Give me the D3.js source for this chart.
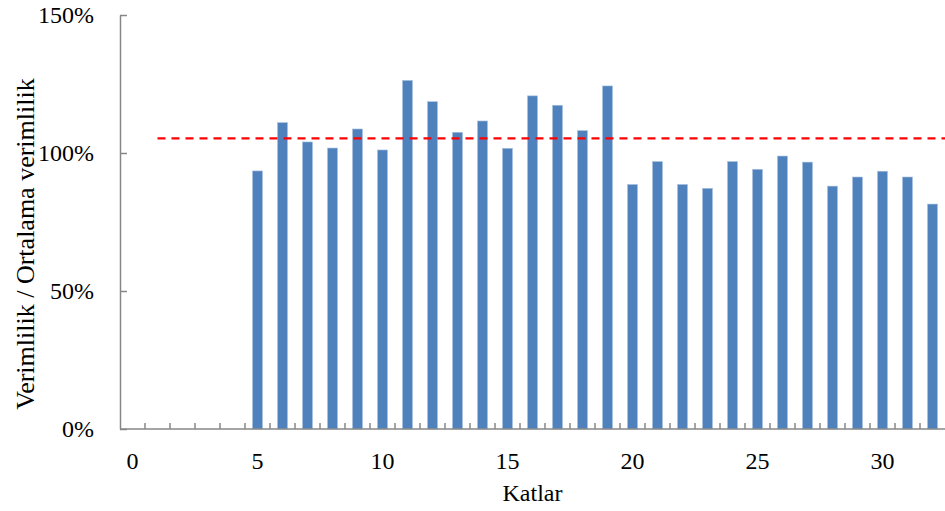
<!DOCTYPE html>
<html>
<head>
<meta charset="utf-8">
<script src="https://cdn.jsdelivr.net/npm/d3@7"></script>
<style>
  body { margin: 0; background: #fff; }
  svg text { font-family: "Liberation Serif", "Times New Roman", serif; fill: #000; }
</style>
</head>
<body>
<div id="chart"></div>
<script>
// floors (Katlar) and yield ratio to the average yield, in percent
const floors = [0, 1, 2, 3, 4, 5, 6, 7, 8, 9, 10, 11, 12, 13, 14, 15, 16,
  17, 18, 19, 20, 21, 22, 23, 24, 25, 26, 27, 28, 29, 30, 31, 32]
const ratios = [null, null, null, null, null, 93.5, 111.0, 104.0, 101.8, 108.7,
  101.1, 126.3, 118.6, 107.5, 111.6, 101.7, 120.7, 117.3, 108.1, 124.3,
  88.6, 96.9, 88.6, 87.2, 96.9, 94.1, 98.9, 96.7, 88.0, 91.3, 93.4, 91.3, 81.5]
const averageLine = 105.3
const averageFrom = 1
const xTickLabels = [0, 5, 10, 15, 20, 25, 30]
const yTickValues = [0, 50, 100, 150]

const width = 945
const height = 511
const margin = { top: 15, right: 0, bottom: 82, left: 120 }

const svg = d3.select('#chart')
  .append('svg')
  .attr('width', width)
  .attr('height', height)

const x = d3.scaleBand()
  .domain(floors)
  .range([margin.left, width - margin.right])
  .paddingInner(0.6)
  .paddingOuter(0.3)

const y = d3.scaleLinear()
  .domain([0, 150])
  .range([height - margin.bottom, margin.top])

const axisColor = '#878787'
const gap = (x.step() - x.bandwidth()) / 2
const bandLeft = d => x(d) - gap

// bars
svg.append('g')
  .selectAll('rect')
  .data(floors.filter((d, i) => ratios[i] != null))
  .join('rect')
  .attr('x', d => x(d))
  .attr('width', x.bandwidth())
  .attr('y', d => y(ratios[floors.indexOf(d)]))
  .attr('height', d => y(0) - y(ratios[floors.indexOf(d)]))
  .attr('fill', '#4f81bd')
  .attr('stroke', '#a9c1de')
  .attr('stroke-width', 0.6)

// average line
svg.append('line')
  .attr('x1', x(averageFrom) + x.bandwidth() / 2)
  .attr('x2', width - margin.right)
  .attr('y1', y(averageLine))
  .attr('y2', y(averageLine))
  .attr('stroke', '#ff0000')
  .attr('stroke-width', 2.2)
  .attr('stroke-dasharray', '8,6')

// y axis
const yAxis = svg.append('g')
  .attr('transform', `translate(${margin.left},0)`)
  .call(d3.axisLeft(y)
    .tickValues(yTickValues)
    .tickSizeInner(-7)
    .tickSizeOuter(0)
    .tickPadding(26)
    .tickFormat(d => d + '%'))
yAxis.attr('font-family', null)
yAxis.select('.domain').attr('stroke', axisColor).attr('stroke-width', 1.5)
yAxis.selectAll('.tick line').attr('stroke', axisColor).attr('stroke-width', 1.5)
yAxis.selectAll('text')
  .style('font-size', '24px')

// x axis line and ticks between categories
const xAxis = svg.append('g')
svg.append('line')
  .attr('x1', margin.left)
  .attr('x2', width - margin.right)
  .attr('y1', y(0))
  .attr('y2', y(0))
  .attr('stroke', axisColor)
  .attr('stroke-width', 1.5)

xAxis.selectAll('line')
  .data(floors.slice(1))
  .join('line')
  .attr('x1', d => bandLeft(d))
  .attr('x2', d => bandLeft(d))
  .attr('y1', y(0))
  .attr('y2', y(0) - 6)
  .attr('stroke', axisColor)
  .attr('stroke-width', 1.5)

xAxis.selectAll('text')
  .data(xTickLabels)
  .join('text')
  .attr('x', d => x(d) + x.bandwidth() / 2)
  .attr('y', y(0) + 40)
  .attr('text-anchor', 'middle')
  .style('font-size', '24px')
  .text(d => d)

// axis titles
svg.append('text')
  .attr('x', (margin.left + width - margin.right) / 2)
  .attr('y', 501)
  .attr('text-anchor', 'middle')
  .style('font-size', '24px')
  .text('Katlar')

svg.append('text')
  .attr('transform', 'translate(34,244) rotate(-90)')
  .attr('text-anchor', 'middle')
  .style('font-size', '26px')
  .text('Verimlilik / Ortalama verimlilik')
</script>
</body>
</html>
